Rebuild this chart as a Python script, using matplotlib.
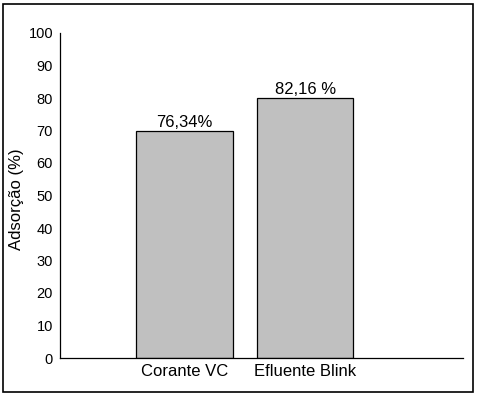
import matplotlib
matplotlib.use("Agg")
import matplotlib.pyplot as plt
from matplotlib.patches import Rectangle

# data
categories = ["Corante VC", "Efluente Blink"]
heights = [70, 80]
bar_labels = ["76,34%", "82,16 %"]
yticks = [0, 10, 20, 30, 40, 50, 60, 70, 80, 90, 100]

plt.rcParams["font.family"] = ["Liberation Sans", "DejaVu Sans"]

fig = plt.figure(figsize=(4.78, 3.99), dpi=100)
fig.patches.append(Rectangle((3 / 478, 7 / 399), 470 / 478, 388 / 399,
                             transform=fig.transFigure, fill=False,
                             edgecolor="black", linewidth=1.2))

ax = fig.add_axes([60 / 478, 41 / 399, 403 / 478, 325 / 399])
x = list(range(len(categories)))
bars = ax.bar(x, heights, width=0.8, color="#c0c0c0", edgecolor="black",
              linewidth=0.9)
for b, lab in zip(bars, bar_labels):
    ax.text(b.get_x() + b.get_width() / 2, b.get_height() + 0.3, lab,
            ha="center", va="bottom", fontsize=12)

ax.set_xlim(-1.033, 2.31)
ax.set_ylim(0, 100)
ax.set_xticks(x)
ax.set_xticklabels(categories, fontsize=12)
ax.set_yticks(yticks)
ax.tick_params(axis="y", length=0, pad=5, labelsize=10.5)
ax.tick_params(axis="x", length=0, pad=4)
ax.set_ylabel("Adsorção (%)", fontsize=12)
ax.yaxis.set_label_coords(-0.089, 0.489)
for s in ["top", "right"]:
    ax.spines[s].set_visible(False)
for s in ["left", "bottom"]:
    ax.spines[s].set_linewidth(0.9)

fig.savefig("out.png", dpi=100)
